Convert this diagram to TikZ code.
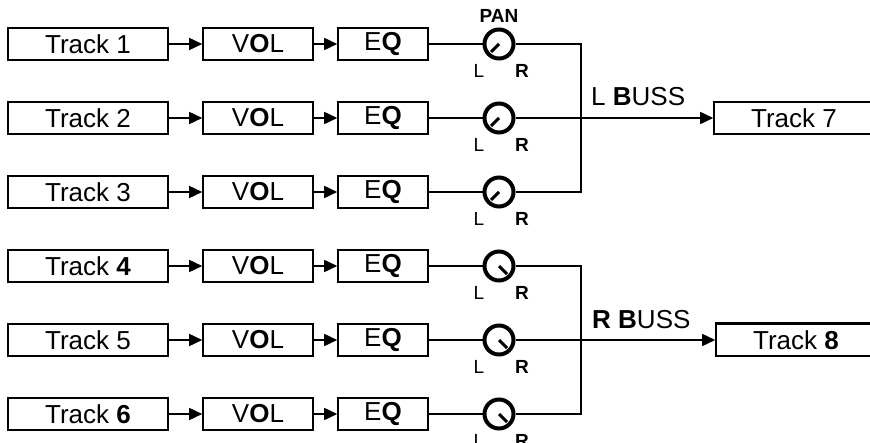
\documentclass[tikz,border=0pt]{standalone}
\usepackage{fontspec}
\setmainfont{Liberation Sans}
\usetikzlibrary{arrows.meta, positioning}

\tikzset{
  blk/.style={draw, line width=1.6pt, minimum height=32pt, inner sep=0pt,
    font=\fontsize{26}{28}\selectfont},
  knob/.style={draw, circle, line width=4pt, minimum size=29pt, inner sep=0pt},
  sig/.style={line width=1.6pt},
  feed/.style={sig, -{Triangle[length=13pt,width=12pt]}},
  lr/.style={font=\fontsize{19}{20}\selectfont},
  buss/.style={font=\fontsize{26}{28}\selectfont, inner sep=0pt, anchor=west},
}

\begin{document}
\begin{tikzpicture}[x=1pt, y=-1pt]
  \useasboundingbox (0,0) rectangle (870,443);

  % six channel strips
  \foreach \i/\y/\lab/\dir in {1/44/1/-1, 2/118/2/-1, 3/192/3/-1,
                               4/266/\textbf{4}/1, 5/340/5/1, 6/414/\textbf{6}/1} {
    \node[blk, minimum width=160pt] (trk\i) at (88,\y) {Track \lab};
    \node[blk, minimum width=110pt] (vol\i) at (258,\y) {V\textbf{O}L};
    \node[blk, minimum width=90pt] (eq\i) at (383,\y) {E\textbf{Q}};
    \node[knob] (pan\i) at (499,\y) {};
    \draw[feed] (trk\i) -- (vol\i);
    \draw[feed] (vol\i) -- (eq\i);
    \draw[sig] (eq\i) -- (pan\i);
    \draw[line width=3pt] (pan\i.center) -- ++(\dir*8,8);
    \node[lr] (l\i) at (479,\y+27) {L};
    \node[lr, font=\fontsize{19}{20}\selectfont\bfseries] (r\i) at (522,\y+27) {R};
  }
  \node[lr, font=\fontsize{19}{20}\selectfont\bfseries] (pan) at (499,16) {PAN};

  % left buss
  \coordinate (lbus) at (581,118);
  \node[blk, minimum width=160pt] (trk7) at (794,118) {Track 7};
  \draw[sig] (pan1) -| (lbus);
  \draw[sig] (pan3) -| (lbus);
  \draw[feed] (pan2) -- (trk7);
  \node[buss] (lname) at (591,97) {L \textbf{B}USS};

  % right buss
  \coordinate (rbus) at (581,340);
  \node[blk, minimum width=160pt] (trk8) at (796,340) {Track \textbf{8}};
  \draw[line width=3pt] (trk8.north west) -- (trk8.north east);
  \draw[sig] (pan4) -| (rbus);
  \draw[sig] (pan6) -| (rbus);
  \draw[feed] (pan5) -- (trk8);
  \node[buss] (rname) at (592,320) {\textbf{R} \textbf{B}USS};
\end{tikzpicture}
\end{document}
